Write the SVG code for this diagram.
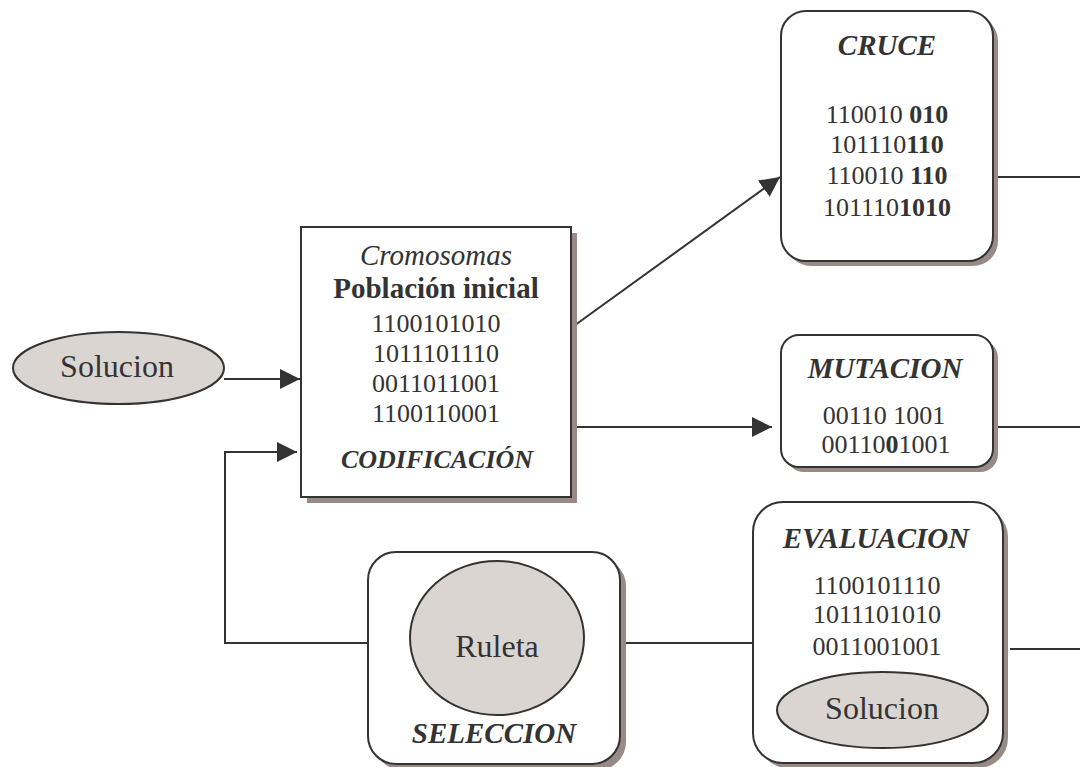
<svg xmlns="http://www.w3.org/2000/svg" width="1080" height="767" viewBox="0 0 1080 767">
<style>
.box{fill:#ffffff;stroke:#333333;stroke-width:2}
.sh{fill:#978a87}
.ell{fill:#dbd5d2;stroke:#333333;stroke-width:2}
.t{fill:#333333;text-anchor:middle}
.title{font-size:29px;font-weight:bold;font-style:italic}
.dig{font-size:26px}
.big{font-size:32px}
.b{font-weight:bold}
.con{fill:none;stroke:#333333;stroke-width:2}
</style>
<defs>
<marker id="arr" markerUnits="userSpaceOnUse" markerWidth="20" markerHeight="20" refX="20" refY="10" orient="auto">
<path d="M0,0 L20,10 L0,20 z" fill="#333333"/>
</marker>
</defs>

<g id="connectors">
<path class="con" d="M224,379 H300" marker-end="url(#arr)"/>
<path class="con" d="M370,643 H225 V452 H297" marker-end="url(#arr)"/>
<path class="con" d="M571,328 L780,177" marker-end="url(#arr)"/>
<path class="con" d="M561,427 H772" marker-end="url(#arr)"/>
<path class="con" d="M993,177 H1080"/>
<path class="con" d="M993,427 H1080"/>
<path class="con" d="M613,643 H757"/>
<path class="con" d="M1010,649 H1080"/>
</g>

<g font-family="'Liberation Serif', 'Times New Roman', Times, serif">
<g id="solucion-inicio">
<ellipse class="ell" cx="118.5" cy="368" rx="105.5" ry="36"/>
<text class="t big" x="117" y="377">Solucion</text>
</g>

<g id="codificacion">
<rect class="sh" x="307" y="233" width="270" height="270"/>
<rect class="box" x="301" y="227" width="270" height="270"/>
<text class="t" x="436" y="265" font-size="29" font-style="italic">Cromosomas</text>
<text class="t b" x="436" y="298" font-size="29">Población inicial</text>
<text class="t dig" x="436" y="332">1100101010</text>
<text class="t dig" x="436" y="362">1011101110</text>
<text class="t dig" x="436" y="392">0011011001</text>
<text class="t dig" x="436" y="422">1100110001</text>
<text class="t" x="437" y="468" font-size="26" font-weight="bold" font-style="italic">CODIFICACIÓN</text>
</g>

<g id="cruce">
<rect class="sh" x="786" y="16" width="212" height="250" rx="25"/>
<rect class="box" x="781" y="11" width="212" height="250" rx="25"/>
<text class="t title" x="887" y="55">CRUCE</text>
<text class="t dig" x="887" y="123">110010 <tspan class="b">010</tspan></text>
<text class="t dig" x="887" y="153">101110<tspan class="b">110</tspan></text>
<text class="t dig" x="887" y="184">110010 <tspan class="b">110</tspan></text>
<text class="t dig" x="887" y="216">101110<tspan class="b">1010</tspan></text>
</g>

<g id="mutacion">
<rect class="sh" x="786" y="340" width="212" height="132" rx="18"/>
<rect class="box" x="781" y="335" width="212" height="132" rx="18"/>
<text class="t title" x="885" y="378">MUTACION</text>
<text class="t dig" x="884" y="424">00110 1001</text>
<text class="t dig" x="886" y="453">00110<tspan class="b">0</tspan>1001</text>
</g>

<g id="seleccion">
<rect class="sh" x="374" y="558" width="252" height="212" rx="28"/>
<rect class="box" x="368" y="552" width="252" height="212" rx="28"/>
<ellipse class="ell" cx="497" cy="638" rx="87" ry="77"/>
<text class="t big" x="497" y="657">Ruleta</text>
<text class="t title" x="494" y="743">SELECCION</text>
</g>

<g id="evaluacion">
<rect class="sh" x="758" y="507" width="250" height="261" rx="30"/>
<rect class="box" x="753" y="502" width="250" height="261" rx="30"/>
<text class="t title" x="876" y="548">EVALUACION</text>
<text class="t dig" x="877" y="594">1100101110</text>
<text class="t dig" x="877" y="623">1011101010</text>
<text class="t dig" x="877" y="655">0011001001</text>
<ellipse class="ell" cx="882.5" cy="710" rx="105.5" ry="38"/>
<text class="t big" x="882" y="719">Solucion</text>
</g>
</g>
</svg>
